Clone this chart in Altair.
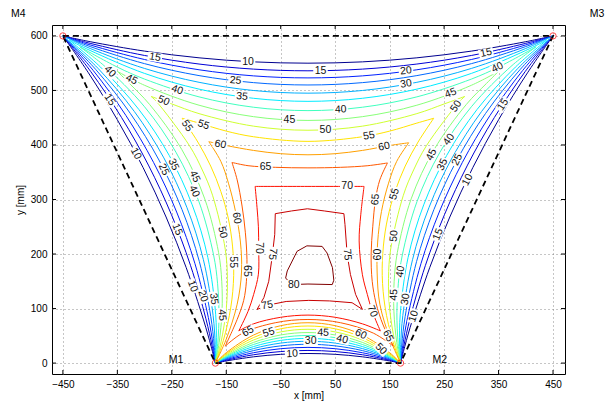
import altair as alt
import pandas as pd

LEVELS = [10, 15, 20, 25, 30, 35, 40, 45, 50, 55, 60, 65, 70, 75, 80]
LEVEL_COLORS = ["#00008F", "#0000D6", "#0020FF", "#0068FF", "#00B0FF", "#00ECFF",
                "#40FFBF", "#88FF78", "#CFFF30", "#FFE400", "#FFA000", "#FF5800",
                "#FF1000", "#C80000", "#800000"]

X_TICKS = [-450, -350, -250, -150, -50, 50, 150, 250, 350, 450]
Y_TICKS = [0, 100, 200, 300, 400, 500, 600]

MIC_NAMES = ["M1", "M2", "M3", "M4"]
MIC_X = [-170, 170, 450, -450]
MIC_Y = [0, 0, 600, 600]
MIC_LABEL_X = [-242, 242, 531, -532]
MIC_LABEL_Y = [5, 5, 640, 640]

BOUNDARY_X = [-450, 450, 170, -170, -450]
BOUNDARY_Y = [600, 600, 0, 0, 600]

# contour branches (x, y in mm)
LEFT = {
    10: [(-170, 0), (-177.8, 30.6), (-191.8, 79.2), (-223.5, 174.9), (-260.5, 267.9), (-302.7, 358.5), (-350.3, 446.7), (-403.2, 532.4), (-450, 600)],
    15: [(-170, 0), (-176, 31.4), (-187.4, 81.3), (-215.5, 178.6), (-250.8, 272.5), (-293, 363.1), (-342.3, 450.4), (-398.8, 534.5), (-450, 600)],
    20: [(-170, 0), (-174.1, 32.3), (-182.9, 83.4), (-207.5, 182.3), (-241.1, 277), (-283.3, 367.6), (-334.3, 454.1), (-394.3, 536.6), (-450, 600)],
    25: [(-170, 0), (-172.2, 33.2), (-178.5, 85.5), (-199.4, 186.1), (-231.3, 281.6), (-273.5, 372.2), (-326.2, 457.9), (-389.9, 538.7), (-450, 600)],
    30: [(-170, 0), (-170.4, 34), (-174.2, 87.4), (-192, 189.6), (-222.4, 285.7), (-264.6, 376.3), (-318.8, 461.4), (-385.6, 540.6), (-450, 600)],
    35: [(-170, 0), (-168.3, 35), (-169.5, 89.6), (-183.8, 193.4), (-212.6, 290.3), (-254.8, 380.9), (-310.6, 465.2), (-380.9, 542.8), (-438, 592)],
    40: [(-170, 0), (-165.6, 36.3), (-163.3, 92.5), (-166, 146.5), (-173.3, 198.3), (-200.2, 296.1), (-242.4, 386.7), (-300.1, 470.1), (-374.7, 545.7), (-419, 580)],
    45: [(-170, 0), (-163.1, 37.4), (-157.8, 95.1), (-158.3, 150.1), (-164.1, 202.6), (-189.5, 301.1), (-231.7, 391.7), (-290.9, 474.4), (-327.5, 512.5), (-350, 535)],
    50: [(-170, 0), (-159.5, 39.1), (-150.1, 98.7), (-147.9, 155), (-151.8, 208.3), (-175.2, 307.8), (-194, 354.1), (-217.4, 398.4), (-278.6, 480.1), (-288, 489)],
    55: [(-170, 0), (-155.5, 41), (-141.6, 102.7), (-136.4, 160.3), (-138.5, 214.6), (-146.4, 266), (-160, 314.8), (-178.6, 361.3), (-202.2, 405.4), (-231, 449)],
    60: [(-170, 0), (-150, 44), (-130, 108), (-122, 167), (-124, 222), (-133, 278), (-146, 330), (-160, 370), (-182, 406)],
    65: [(-152, 31), (-130, 80), (-118, 115), (-113, 150), (-112, 190), (-115, 240), (-121, 288), (-130, 336), (-139.5, 368)],
    70: [(-127, 59), (-110, 95), (-99.7, 126), (-91, 163), (-90.5, 211), (-91, 250), (-93.5, 285), (-97, 324)],
}

RIGHT = {
    10: [(170, 0), (177.8, 30.6), (191.8, 79.2), (223.5, 174.9), (260.5, 267.9), (302.7, 358.5), (350.3, 446.7), (403.2, 532.4), (450, 600)],
    15: [(170, 0), (176, 31.4), (187.4, 81.3), (215.5, 178.6), (250.8, 272.5), (293, 363.1), (342.3, 450.4), (398.8, 534.5), (450, 600)],
    20: [(170, 0), (174.1, 32.3), (182.9, 83.4), (207.5, 182.3), (241.1, 277), (283.3, 367.6), (334.3, 454.1), (394.3, 536.6), (450, 600)],
    25: [(170, 0), (172.2, 33.2), (178.5, 85.5), (199.4, 186.1), (231.3, 281.6), (273.5, 372.2), (326.2, 457.9), (389.9, 538.7), (450, 600)],
    30: [(170, 0), (170.4, 34), (174.2, 87.4), (192, 189.6), (222.4, 285.7), (264.6, 376.3), (318.8, 461.4), (385.6, 540.6), (450, 600)],
    35: [(170, 0), (168.3, 35), (169.5, 89.6), (183.8, 193.4), (212.6, 290.3), (254.8, 380.9), (310.6, 465.2), (380.9, 542.8), (438, 592)],
    40: [(170, 0), (165.6, 36.3), (163.3, 92.5), (166, 146.5), (173.3, 198.3), (200.2, 296.1), (242.4, 386.7), (300.1, 470.1), (374.7, 545.7), (419, 580)],
    45: [(170, 0), (163.1, 37.4), (157.8, 95.1), (158.3, 150.1), (164.1, 202.6), (189.5, 301.1), (231.7, 391.7), (290.9, 474.4), (327.5, 512.5), (350, 535)],
    50: [(170, 0), (159.5, 39.1), (150.1, 98.7), (147.9, 155), (151.8, 208.3), (175.2, 307.8), (194, 354.1), (217.4, 398.4), (278.6, 480.1), (288, 489)],
    55: [(170, 0), (155.5, 41), (141.6, 102.7), (136.4, 160.3), (138.5, 214.6), (146.4, 266), (160, 314.8), (178.6, 361.3), (202.2, 405.4), (231, 449)],
    60: [(170, 0), (151, 44), (132, 108), (127, 167), (128, 222), (135, 278), (148, 330), (163, 370), (185, 404)],
    65: [(157, 31), (138, 70), (125, 110), (118, 150), (116, 200), (119, 250), (124, 300), (132, 336), (146, 367)],
    70: [(133, 59), (118, 95), (109, 126), (100, 162), (94, 224), (97, 272), (103, 324)],
}

TOP = {
    10: [(-450, 600), (-400, 589.4), (-300, 572.1), (-200, 559.8), (-100, 552.4), (0, 550), (100, 552.4), (200, 559.8), (300, 572.1), (400, 589.4), (450, 600)],
    15: [(-450, 600), (-400, 586.4), (-300, 564.1), (-200, 548.4), (-100, 539.1), (0, 536), (100, 539.1), (200, 548.4), (300, 564.1), (400, 586.4), (450, 600)],
    20: [(-450, 600), (-400, 583.5), (-300, 556.7), (-200, 537.9), (-100, 526.7), (0, 523), (100, 526.7), (200, 537.9), (300, 556.7), (400, 583.5), (450, 600)],
    25: [(-450, 600), (-400, 580.5), (-300, 549.1), (-200, 527.2), (-100, 514.3), (0, 510), (100, 514.3), (200, 527.2), (300, 549.1), (400, 580.5), (450, 600)],
    30: [(-450, 600), (-400, 577), (-300, 540.3), (-200, 514.9), (-100, 499.9), (0, 495), (100, 499.9), (200, 514.9), (300, 540.3), (400, 577), (450, 600)],
    35: [(-438, 592), (-400, 573.3), (-300, 531.2), (-200, 502.4), (-100, 485.6), (0, 480), (100, 485.6), (200, 502.4), (300, 531.2), (400, 573.3), (438, 592)],
    40: [(-419, 580), (-350, 542.8), (-300, 520.8), (-200, 488.2), (-100, 469.2), (0, 463), (100, 469.2), (200, 488.2), (300, 520.8), (350, 542.8), (419, 580)],
    45: [(-350, 535), (-300, 509.4), (-200, 472.9), (-100, 451.9), (0, 445), (100, 451.9), (200, 472.9), (300, 509.4), (350, 535)],
    50: [(-288, 489), (-250, 475.2), (-200, 457.5), (-100, 434.5), (0, 427), (100, 434.5), (200, 457.5), (250, 475.2), (288, 489)],
    55: [(-231, 449), (-200, 440.1), (-150, 425.4), (-100, 415.1), (0, 406.6), (100, 415.1), (150, 425.4), (200, 440.1), (231, 449)],
    60: [(-182, 406), (-150, 399), (-100, 390), (-50, 384), (0, 382), (50, 384), (100, 390), (150, 399), (185, 404)],
    65: [(-139.5, 368), (-110, 362), (-60, 359), (0, 358), (60, 359), (110, 362), (146, 367)],
    70: [(-97, 324), (0, 324), (103, 324)],
}

BOTTOM = {
    10: [(-170, 0), (-150, 3.9), (-100, 11.5), (-50, 16.1), (0, 17.6), (50, 16.1), (100, 11.5), (150, 3.9), (170, 0)],
    15: [(-170, 0), (-150, 5.2), (-100, 15.3), (-50, 21.2), (0, 23.2), (50, 21.2), (100, 15.3), (150, 5.2), (170, 0)],
    20: [(-170, 0), (-150, 6.5), (-100, 19), (-50, 26.4), (0, 28.8), (50, 26.4), (100, 19), (150, 6.5), (170, 0)],
    25: [(-170, 0), (-150, 7.9), (-100, 22.9), (-50, 31.6), (0, 34.5), (50, 31.6), (100, 22.9), (150, 7.9), (170, 0)],
    30: [(-170, 0), (-150, 9.3), (-100, 26.6), (-50, 36.7), (0, 40), (50, 36.7), (100, 26.6), (150, 9.3), (170, 0)],
    35: [(-170, 0), (-150, 10.6), (-100, 30.3), (-50, 41.6), (0, 45.3), (50, 41.6), (100, 30.3), (150, 10.6), (170, 0)],
    40: [(-170, 0), (-150, 12), (-100, 34.1), (-50, 46.6), (0, 50.6), (50, 46.6), (100, 34.1), (150, 12), (170, 0)],
    45: [(-170, 0), (-150, 13.5), (-100, 37.9), (-50, 51.6), (0, 56), (50, 51.6), (100, 37.9), (150, 13.5), (170, 0)],
    50: [(-170, 0), (-150, 15.3), (-100, 42.3), (-50, 57.2), (0, 62), (50, 57.2), (100, 42.3), (150, 15.3), (170, 0)],
    55: [(-170, 0), (-150, 17.1), (-100, 46.8), (-50, 62.9), (0, 68), (50, 62.9), (100, 46.8), (150, 17.1), (170, 0)],
    60: [(-170, 0), (-150, 19.1), (-100, 51.4), (-50, 68.6), (0, 74), (50, 68.6), (100, 51.4), (150, 19.1), (170, 0)],
    65: [(-152, 31), (-120, 55), (-60, 74), (0, 80), (60, 74), (120, 55), (157, 31)],
    70: [(-127, 59), (-100, 72), (-50, 84), (0, 88), (50, 84), (100, 72), (133, 59)],
}

INNER = {
    75: [(-60, 274), (-30, 279), (-1, 283), (30, 279), (66, 274), (68, 254), (72, 199), (78, 162.5), (87.5, 126), (100, 98.5),
         (81, 110.7), (40, 114), (1.5, 115), (-40, 113), (-70, 107), (-93.5, 98.5), (-81, 120), (-72, 150), (-66, 193), (-61, 236), (-60, 274)],
    80: [(-20, 205), (-2, 215), (26, 214), (35, 202), (45, 175), (47.5, 152), (44.6, 144), (0, 145), (-30, 144), (-41, 156), (-38, 169), (-20, 205)],
}

LABEL_TEXT = ["10", "15", "15", "15", "20", "25", "30", "35", "40", "40", "40", "45", "45", "45", "50", "50", "50", "55", "55", "55",
              "60", "60", "65", "70", "40", "15", "10", "25", "35", "45", "40", "15", "50", "60", "55", "65", "70", "75", "35", "45",
              "10", "20", "10", "30", "45", "40", "55", "60", "50", "65", "65", "75", "70", "80", "75", "60", "65", "50", "55", "45",
              "35", "40", "25", "10", "15", "15", "45", "40", "30", "10"]
LABEL_X = [-110, 23, -281, 327, 180, -133, 180, -121, 60, -240, 348, -34, 262, -324, 32, -265, 272, 112, -192, -222,
           -161, 140, -78, 72, -363.5, -364, -316, -265, -247, -208, -209, -240, -157, -131, -137, -112, -90.5, -65, -173, -158,
           -212, -193, -29, 5, 28, 63, -72, 97, 134, -110, 147, -75, 118, -26, 72, 128, 124, 158, 159, 227,
           247, 259, 274, 293, 239, 358, 158, 170, 179, 194]
LABEL_Y = [552, 536, 561, 569, 536, 518, 512, 489, 465, 501, 542, 445, 495, 520, 427, 481, 471, 417, 437, 435,
           401, 397, 360, 324, 534.5, 483, 384, 355, 364, 342, 315, 245, 240, 266, 185, 169, 211, 200, 118, 88,
           141, 123, 17, 40, 55.5, 43.5, 56, 53, 26, 58, 50, 106, 95, 144, 199, 199, 300, 233, 310, 382,
           364, 410, 373, 336, 236, 474, 125, 168, 117, 86]
LABEL_ANGLE = [0, 0, 9, -12, -6, 5, -9, 5, -2, 18, -26, 0, -21, 26, 0, 23, -55, -10, 18, 56,
               12, -12, 0, 0, 45, 56, 62, 65, 65, 65, 65, 69, 77, 81, 90, 90, 90, 97, 82, 85,
               70, 72, -3, 0, 2, 14, -18, 25, 45, -30, 64, -10, 67, 0, 85, -90, -85, -85, -74, -65,
               -65, -55, -65, -62, -69, -56, -88, -82, -80, -72]

W, H = 513, 349
FONT = "Liberation Sans"

# ---------- tables ----------
line_rows = []
for side, table in (("left", LEFT), ("top", TOP), ("right", RIGHT), ("bottom", BOTTOM)):
    for lev, pts in table.items():
        for i, (x, y) in enumerate(pts):
            line_rows.append({"piece": f"{side}{lev}", "level": str(lev), "i": i, "x": x, "y": y})
lines_df = pd.DataFrame(line_rows)

inner_rows = []
for lev, pts in INNER.items():
    for i, (x, y) in enumerate(pts):
        inner_rows.append({"piece": f"loop{lev}", "level": str(lev), "i": i, "x": x, "y": y})
inner_df = pd.DataFrame(inner_rows)

labels_df = pd.DataFrame({"text": LABEL_TEXT, "x": LABEL_X, "y": LABEL_Y,
                          "angle": [a % 360 for a in LABEL_ANGLE]})
boundary_df = pd.DataFrame({"x": BOUNDARY_X, "y": BOUNDARY_Y, "i": list(range(len(BOUNDARY_X)))})
mics_df = pd.DataFrame({"name": MIC_NAMES, "x": MIC_X, "y": MIC_Y})
mic_labels_df = pd.DataFrame({"name": MIC_NAMES, "x": MIC_LABEL_X, "y": MIC_LABEL_Y})
xt_df = pd.DataFrame({"x": X_TICKS})
yt_df = pd.DataFrame({"y": Y_TICKS})

xs = alt.Scale(domain=[-470, 472], nice=False, zero=False)
ys = alt.Scale(domain=[-20, 620], nice=False, zero=False)
xaxis = alt.Axis(values=X_TICKS, title="x [mm]", grid=True, gridDash=[1, 3], gridColor="#6f6f6f",
                 gridWidth=0.8, ticks=False, domain=False, labelFont=FONT, labelFontSize=10,
                 labelColor="#000", titleFont=FONT, titleFontSize=10, titleFontWeight="normal",
                 titleColor="#000", labelPadding=5, titlePadding=1)
yaxis = alt.Axis(values=Y_TICKS, title="y [mm]", grid=True, gridDash=[1, 3], gridColor="#6f6f6f",
                 gridWidth=0.8, ticks=False, domain=False, labelFont=FONT, labelFontSize=10,
                 labelColor="#000", titleFont=FONT, titleFontSize=10, titleFontWeight="normal",
                 titleColor="#000", labelPadding=5, titlePadding=5)
X = alt.X("x:Q", scale=xs, axis=xaxis)
Y = alt.Y("y:Q", scale=ys, axis=yaxis)
color = alt.Color("level:N", scale=alt.Scale(domain=[str(l) for l in LEVELS], range=LEVEL_COLORS), legend=None)

smooth = alt.Chart(lines_df).mark_line(interpolate="catmull-rom", strokeWidth=1).encode(
    x=X, y=Y, color=color, detail="piece:N", order="i:Q")
inner = alt.Chart(inner_df).mark_line(strokeWidth=1).encode(
    x=X, y=Y, color=color, detail="piece:N", order="i:Q")

boundary = alt.Chart(boundary_df).mark_line(color="black", strokeWidth=1.8, strokeDash=[6, 4]).encode(
    x=X, y=Y, order="i:Q")

label_bg = alt.Chart(labels_df).mark_point(shape="M-1,-0.62H1V0.62H-1Z", filled=True, fill="white",
                                          strokeWidth=0, opacity=1, size=210).encode(
    x=X, y=Y, angle=alt.Angle("angle:Q", scale=None))
label_txt = alt.Chart(labels_df).mark_text(font=FONT, fontSize=10.5, color="#111", align="center",
                                           baseline="middle").encode(
    x=X, y=Y, text="text:N", angle=alt.Angle("angle:Q", scale=None))

mics = alt.Chart(mics_df).mark_point(shape="circle", filled=False, color="red", size=40, strokeWidth=1).encode(x=X, y=Y)
mic_labels = alt.Chart(mic_labels_df).mark_text(font=FONT, fontSize=10.5, color="#000").encode(x=X, y=Y, text="name:N")

tick_bottom = alt.Chart(xt_df).mark_rule(color="black", strokeWidth=1).encode(
    x=X, y=alt.value(H - 4), y2=alt.value(H))
tick_top = alt.Chart(xt_df).mark_rule(color="black", strokeWidth=1).encode(
    x=X, y=alt.value(0), y2=alt.value(4))
tick_left = alt.Chart(yt_df).mark_rule(color="black", strokeWidth=1).encode(
    y=Y, x=alt.value(0), x2=alt.value(4))
tick_right = alt.Chart(yt_df).mark_rule(color="black", strokeWidth=1).encode(
    y=Y, x=alt.value(W - 4), x2=alt.value(W))

chart = alt.layer(
    smooth, inner, boundary, label_bg, label_txt, mics, mic_labels,
    tick_bottom, tick_top, tick_left, tick_right,
).properties(
    width=W, height=H,
    autosize=alt.AutoSizeParams(type="none"),
    padding={"left": 44, "top": 17, "right": 40, "bottom": 33},
    background="white",
).configure_view(stroke="black", strokeWidth=1)

chart.save("out.html", embed_options={"renderer": "svg", "actions": False})
